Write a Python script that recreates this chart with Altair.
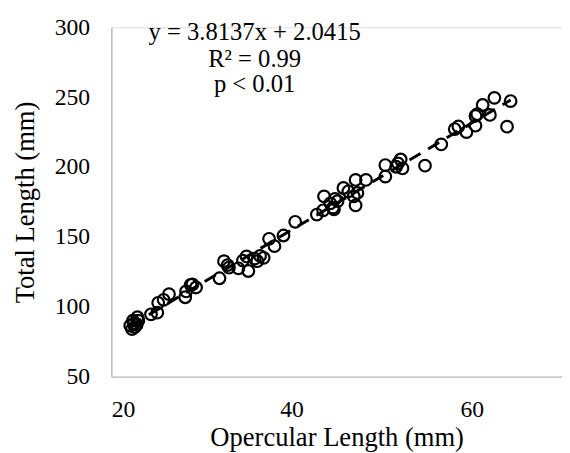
import altair as alt
import pandas as pd

# Opercular length (mm) and total length (mm)
opercular = [22.1, 22.3, 22.4, 22.5, 22.6, 22.8, 22.9, 23.0,
             24.4, 25.1, 25.2, 25.8, 26.4, 28.2, 28.3, 28.8, 29.0, 29.4,
             32.0, 32.5, 32.9, 33.05, 34.1, 34.6, 35.0, 35.2, 35.9, 36.2, 36.5, 36.9,
             37.5, 38.1, 39.1, 40.4, 42.8, 43.5, 43.6, 44.3, 44.6, 44.8, 45.1, 44.7,
             45.75, 46.3, 46.9, 47.3, 47.1, 47.1, 48.25, 50.4, 50.4, 51.6, 51.8, 52.1,
             52.3, 54.8, 56.6, 58.1, 58.5, 59.4, 60.4, 60.4, 60.6, 61.2, 62.0, 62.5,
             63.9, 64.3]
total = [86.5, 84.0, 90.0, 88.0, 85.5, 87.0, 92.5, 90.0,
         94.6, 95.8, 102.8, 105.0, 109.0, 106.8, 111.0, 115.7, 116.0, 113.8,
         120.4, 132.6, 129.8, 128.0, 127.5, 133.0, 136.0, 125.6, 134.5, 132.6, 136.4, 135.0,
         148.6, 143.4, 151.0, 160.8, 166.0, 169.0, 179.0, 174.0, 171.0, 177.2, 175.6, 169.7,
         185.0, 182.6, 179.0, 181.5, 190.8, 172.5, 190.8, 193.2, 201.4, 200.2, 202.6, 205.4,
         199.0, 201.0, 216.2, 227.2, 229.0, 225.0, 229.6, 236.6, 237.8, 244.4, 237.3, 249.5,
         228.9, 247.2]

x_ticks = [20, 40, 60]
y_ticks = [50, 100, 150, 200, 250, 300]

ann_lines = ["y = 3.8137x + 2.0415", "R² = 0.99", "p < 0.01"]
ann_x = [35.9, 35.9, 35.9]
ann_y = [296.5, 277.5, 259.4]

df = pd.DataFrame({"op": opercular, "tl": total})
ann = pd.DataFrame({"text": ann_lines, "x": ann_x, "y": ann_y})

FONT = "Liberation Serif"

xscale = alt.Scale(domain=[20, 70], nice=False)
yscale = alt.Scale(domain=[50, 300], nice=False)

xaxis = alt.Axis(values=x_ticks, title="Opercular Length (mm)", grid=False, ticks=False,
                 domainColor="#bfbfbf", domainWidth=1.5, labelPadding=22,
                 labelFont=FONT, labelFontSize=24, labelColor="#000000",
                 titleFont=FONT, titleFontSize=27, titleFontWeight="normal",
                 titleColor="#000000", titlePadding=3)
yaxis = alt.Axis(values=y_ticks, title="Total Length (mm)", grid=False, ticks=False,
                 domainColor="#bfbfbf", domainWidth=1.5, labelPadding=22,
                 labelFont=FONT, labelFontSize=24, labelColor="#000000",
                 titleFont=FONT, titleFontSize=27, titleFontWeight="normal",
                 titleColor="#000000", titlePadding=15)

points = alt.Chart(df).mark_point(shape="circle", filled=False, color="#000000",
                                  size=140, strokeWidth=2.2, opacity=1).encode(
    x=alt.X("op:Q", scale=xscale, axis=xaxis),
    y=alt.Y("tl:Q", scale=yscale, axis=yaxis),
)

trend = alt.Chart(df).transform_regression("op", "tl", method="linear").mark_line(
    color="#000000", strokeWidth=3, strokeDash=[13, 9]).encode(
    x=alt.X("op:Q", scale=xscale),
    y=alt.Y("tl:Q", scale=yscale),
)

text = alt.Chart(ann).mark_text(font=FONT, fontSize=25, color="#000000",
                                align="center", baseline="middle").encode(
    x=alt.X("x:Q", scale=xscale),
    y=alt.Y("y:Q", scale=yscale),
    text="text:N",
)

chart = alt.layer(trend, points, text).properties(
    width=458, height=355,
    padding={"left": 4, "top": 4, "right": 0, "bottom": 0},
).configure_view(stroke=None).configure(background="#ffffff")

chart.save("out.html", embed_options={"renderer": "svg", "actions": False})
